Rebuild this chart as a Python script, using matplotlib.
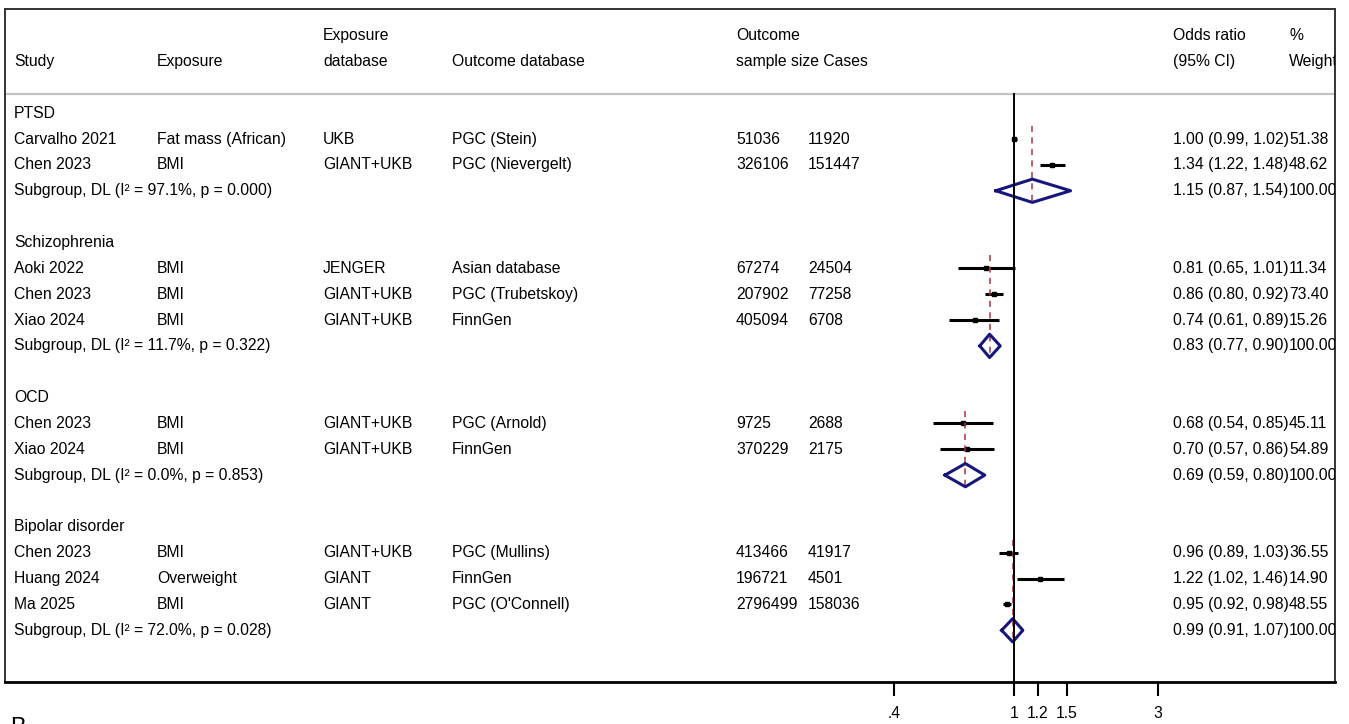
import numpy as np
import matplotlib
matplotlib.use("Agg")
import matplotlib.pyplot as plt

plt.rcParams['font.family'] = ['Liberation Sans', 'DejaVu Sans']

groups = ["PTSD", "Schizophrenia", "OCD", "Bipolar disorder"]
group_of = [0, 0, 1, 1, 1, 2, 2, 3, 3, 3]
study = ["Carvalho 2021", "Chen 2023", "Aoki 2022", "Chen 2023", "Xiao 2024",
         "Chen 2023", "Xiao 2024", "Chen 2023", "Huang 2024", "Ma 2025"]
exposure = ["Fat mass (African)", "BMI", "BMI", "BMI", "BMI",
            "BMI", "BMI", "BMI", "Overweight", "BMI"]
exp_db = ["UKB", "GIANT+UKB", "JENGER", "GIANT+UKB", "GIANT+UKB",
          "GIANT+UKB", "GIANT+UKB", "GIANT+UKB", "GIANT", "GIANT"]
out_db = ["PGC (Stein)", "PGC (Nievergelt)", "Asian database", "PGC (Trubetskoy)", "FinnGen",
          "PGC (Arnold)", "FinnGen", "PGC (Mullins)", "FinnGen", "PGC (O'Connell)"]
sample_n = [51036, 326106, 67274, 207902, 405094, 9725, 370229, 413466, 196721, 2796499]
cases = [11920, 151447, 24504, 77258, 6708, 2688, 2175, 41917, 4501, 158036]
odds = [1.00, 1.34, 0.81, 0.86, 0.74, 0.68, 0.70, 0.96, 1.22, 0.95]
ci_lo = [0.99, 1.22, 0.65, 0.80, 0.61, 0.54, 0.57, 0.89, 1.02, 0.92]
ci_hi = [1.02, 1.48, 1.01, 0.92, 0.89, 0.85, 0.86, 1.03, 1.46, 0.98]
weight = [51.38, 48.62, 11.34, 73.40, 15.26, 45.11, 54.89, 36.55, 14.90, 48.55]

sub_or = [1.15, 0.83, 0.69, 0.99]
sub_lo = [0.87, 0.77, 0.59, 0.91]
sub_hi = [1.54, 0.90, 0.80, 1.07]
sub_i2 = [97.1, 11.7, 0.0, 72.0]
sub_p = [0.000, 0.322, 0.853, 0.028]

ticks = [0.4, 1, 1.2, 1.5, 3]
tick_labels = [".4", "1", "1.2", "1.5", "3"]

W, H = 1349, 724
fig = plt.figure(figsize=(W / 100, H / 100), dpi=100)
# box in pixels: left 5, right 1335, top 9, bottom 682
L, R, T, B = 5, 1335, 9, 682
ax = fig.add_axes([L / W, 1 - B / H, (R - L) / W, (B - T) / H])

# x: log scale, OR=1 at px 1014, 131 px per ln unit
ppl = 131.0
ax.set_xscale('log')
ax.set_xlim(np.exp((L - 1014) / ppl), np.exp((R - 1014) / ppl))
ax.set_ylim(22.0, -4.03)

fs = 11.3
tr = ax.get_yaxis_transform()


def col(px):
    return (px - L) / (R - L)


# header
hdr1 = [(323, "Exposure"), (736, "Outcome"), (1173, "Odds ratio"), (1289, "%")]
hdr2 = [(14, "Study"), (157, "Exposure"), (323, "database"), (452, "Outcome database"),
        (736, "sample size Cases"), (1173, "(95% CI)"), (1289, "Weight")]
for px, s in hdr1:
    ax.text(col(px), -3, s, transform=tr, fontsize=fs, va='center', ha='left', clip_on=True)
for px, s in hdr2:
    ax.text(col(px), -2, s, transform=tr, fontsize=fs, va='center', ha='left', clip_on=True)
ax.axhline(-0.74, color='#c4c4c4', lw=1.6)

row = 0
for g, name in enumerate(groups):
    ax.text(col(14), row, name, transform=tr, fontsize=fs, va='center')
    row += 1
    first = row
    for i in [k for k in range(len(study)) if group_of[k] == g]:
        ax.text(col(14), row, study[i], transform=tr, fontsize=fs, va='center')
        ax.text(col(157), row, exposure[i], transform=tr, fontsize=fs, va='center')
        ax.text(col(323), row, exp_db[i], transform=tr, fontsize=fs, va='center')
        ax.text(col(452), row, out_db[i], transform=tr, fontsize=fs, va='center')
        ax.text(col(736), row, str(sample_n[i]), transform=tr, fontsize=fs, va='center')
        ax.text(col(808), row, str(cases[i]), transform=tr, fontsize=fs, va='center')
        ax.text(col(1173), row, "%.2f (%.2f, %.2f)" % (odds[i], ci_lo[i], ci_hi[i]),
                transform=tr, fontsize=fs, va='center')
        ax.text(col(1289), row, "%.2f" % weight[i], transform=tr, fontsize=fs,
                va='center', clip_on=True)
        ax.plot([ci_lo[i], ci_hi[i]], [row, row], color='black', lw=2.2, solid_capstyle='butt')
        ax.plot(odds[i], row, marker='s', ms=2.6, color='black')
        row += 1
    # subgroup row
    ax.text(col(14), row, "Subgroup, DL (I² = %.1f%%, p = %.3f)" % (sub_i2[g], sub_p[g]),
            transform=tr, fontsize=fs, va='center')
    ax.text(col(1173), row, "%.2f (%.2f, %.2f)" % (sub_or[g], sub_lo[g], sub_hi[g]),
            transform=tr, fontsize=fs, va='center')
    ax.text(col(1289), row, "100.00", transform=tr, fontsize=fs, va='center', clip_on=True)
    ax.plot([sub_or[g], sub_or[g]], [first - 0.5, row + 0.45], color='#a8353f',
            lw=1.1, dashes=(4, 3.5))
    dh = 0.45
    ax.plot([sub_lo[g], sub_or[g], sub_hi[g], sub_or[g], sub_lo[g]],
            [row, row - dh, row, row + dh, row], color='#16167c', lw=2.2)
    row += 2

# null line
ax.plot([1, 1], [-0.74, 22.0], color='black', lw=1.4)

# ticks
ax.set_xticks(ticks)
ax.set_xticklabels(tick_labels)
ax.xaxis.set_minor_locator(matplotlib.ticker.NullLocator())
ax.set_yticks([])
ax.tick_params(axis='x', length=10, width=1.5, direction='out', pad=7, labelsize=fs)

for sp in ['left', 'top', 'right']:
    ax.spines[sp].set_linewidth(1.4)
    ax.spines[sp].set_color('#333333')
ax.spines['bottom'].set_linewidth(2.0)
ax.spines['bottom'].set_color('black')

# panel label of the next panel, cut off at the bottom edge as in the source
fig.text(10 / W, 1 - 717 / H, "B", fontsize=17, va='top', ha='left')

fig.savefig("out.png", dpi=100)
